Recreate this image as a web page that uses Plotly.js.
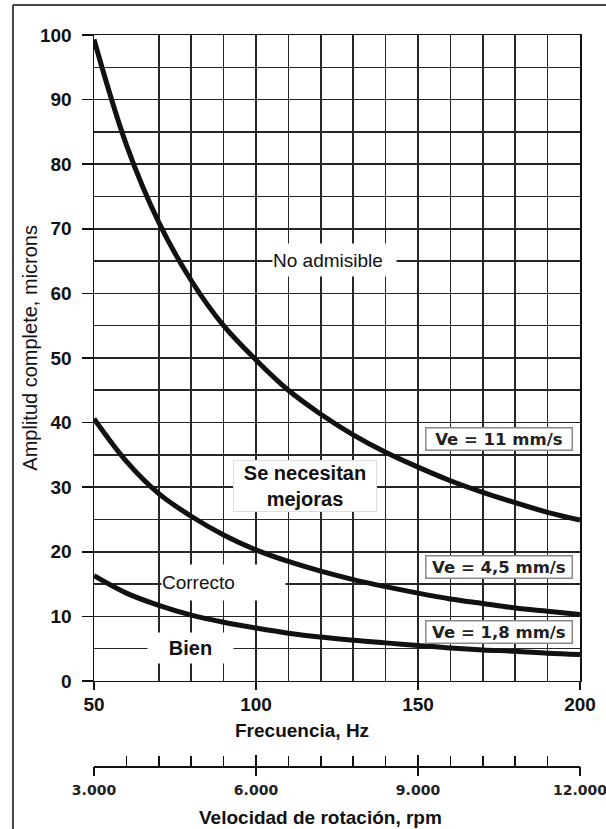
<!DOCTYPE html>
<html>
<head>
<meta charset="utf-8">
<script src="https://cdn.plot.ly/plotly-3.0.1.min.js"></script>
<style>html,body{margin:0;padding:0;background:#fff;}#chart{width:606px;height:829px;}</style>
</head>
<body>
<div id="chart"></div>
<script>
// Frequency (Hz)
const freq = [50, 60, 70, 80, 90, 100, 110, 120, 130, 140, 150, 160, 170, 180, 190, 200];
// Full amplitude (microns) read for each constant-velocity curve
const ve11  = [99.3, 83, 71, 62, 55, 49.7, 45, 41.3, 38.1, 35.4, 33.1, 31, 29.2, 27.6, 26.1, 24.9];
const ve45  = [40.6, 34, 29, 25.5, 22.6, 20.3, 18.5, 17, 15.7, 14.6, 13.6, 12.7, 12, 11.3, 10.8, 10.3];
const ve18  = [16.3, 13.6, 11.7, 10.2, 9.1, 8.2, 7.4, 6.8, 6.3, 5.9, 5.5, 5.1, 4.8, 4.6, 4.3, 4.1];

const curveLabels = ["Ve = 11 mm/s", "Ve = 4,5 mm/s", "Ve = 1,8 mm/s"];
const curveLabelY = [37.5, 17.7, 7.6];

const yTicks = [0, 10, 20, 30, 40, 50, 60, 70, 80, 90, 100];
const xTicks = [50, 100, 150, 200];
const xGridMinor = [70, 80, 90, 110, 120, 130, 140, 160, 170, 180, 190];
const rpmTicks = [3000, 6000, 9000, 12000];
const rpmLabels = ["3.000", "6.000", "9.000", "12.000"];

const zoneLabels = ["No admisible", "Se necesitan<br>mejoras", "Correcto", "Bien"];

const F = "Liberation Sans, Arial, sans-serif";
const FB = "Liberation Sans, Arial, sans-serif";
const FD = "DejaVu Sans, Verdana, sans-serif";
const gridC = "#262626";

const line = {color: "#111", width: 5, shape: "spline", smoothing: 1};
const traces = [
  {x: freq, y: ve11, mode: "lines", line: line, hoverinfo: "skip", showlegend: false},
  {x: freq, y: ve45, mode: "lines", line: line, hoverinfo: "skip", showlegend: false},
  {x: freq, y: ve18, mode: "lines", line: line, hoverinfo: "skip", showlegend: false},
  {x: [rpmTicks[0], rpmTicks[3]], y: [null, null], xaxis: "x2", yaxis: "y", mode: "lines", showlegend: false, hoverinfo: "skip"},
  {x: [rpmTicks[0], rpmTicks[3]], y: [null, null], xaxis: "x3", yaxis: "y", mode: "lines", showlegend: false, hoverinfo: "skip"}
];

const annotations = [];
// zone labels
annotations.push({x: 124.2, y: 65.1, xref: "x", yref: "y", text: zoneLabels[0], showarrow: false,
  font: {family: F, size: 19, color: "#111"}, bgcolor: "#fff", width: 123, height: 32, align: "left", borderpad: 0});
annotations.push({x: 115.1, y: 30.2, xref: "x", yref: "y", text: "<b>" + zoneLabels[1] + "</b>", showarrow: false,
  font: {family: FB, size: 20, color: "#111"}, bgcolor: "#fff", bordercolor: "#ddd", borderwidth: 1,
  width: 142, height: 50, align: "center", borderpad: 0});
annotations.push({x: 90.0, y: 15.25, xref: "x", yref: "y", text: zoneLabels[2], showarrow: false,
  font: {family: F, size: 19, color: "#111"}, bgcolor: "#fff", width: 123, height: 35, align: "left", borderpad: 0});
annotations.push({x: 79.8, y: 5.1, xref: "x", yref: "y", text: "<b>" + zoneLabels[3] + "</b>", showarrow: false,
  font: {family: FB, size: 20, color: "#111"}, bgcolor: "#fff", width: 85, height: 30, align: "center", borderpad: 0});
// velocity labels
for (let i = 0; i < curveLabels.length; i++) {
  annotations.push({x: 174.85, y: curveLabelY[i], xref: "x", yref: "y", text: "<b>" + curveLabels[i] + "</b>",
    showarrow: false, font: {family: FD, size: 16.5, color: "#222"},
    bgcolor: "#fff", bordercolor: "#888", borderwidth: 1.5, width: 143, height: 19, borderpad: 1, align: "center"});
}
// axis titles
annotations.push({x: -0.1317, y: 51.6, xref: "paper", yref: "y", text: "Amplitud complete, microns", textangle: -90,
  xanchor: "center", yanchor: "middle",
  showarrow: false, font: {family: F, size: 20, color: "#111"}});
annotations.push({x: 114.2, y: 0.0479, xref: "x", yref: "paper", text: "<b>Frecuencia, Hz</b>",
  showarrow: false, font: {family: FB, size: 19, color: "#111"}, yanchor: "middle"});
annotations.push({x: 120, y: -0.0711, xref: "x", yref: "paper", text: "<b>Velocidad de rotación, rpm</b>",
  showarrow: false, font: {family: FB, size: 19, color: "#111"}, yanchor: "middle"});

const shapes = [
  {type: "line", xref: "paper", yref: "paper", x0: -0.1667, x1: 1.06, y0: 1.041, y1: 1.041, line: {color: "#444", width: 2}},
  {type: "line", xref: "paper", yref: "paper", x0: -0.1667, x1: -0.1667, y0: 1.041, y1: -0.09, line: {color: "#444", width: 2}}
];

const layout = {
  width: 606, height: 829,
  margin: {l: 94, r: 26, t: 35, b: 63},
  paper_bgcolor: "#fff", plot_bgcolor: "#fff",
  showlegend: false,
  xaxis: {
    range: [50, 200], anchor: "y", tickvals: xTicks, ticktext: xTicks.map(v => "<b>" + v + "</b>"),
    ticks: "outside", ticklen: 8, tickwidth: 1.5, tickcolor: "#111",
    showline: true, linecolor: "#111", linewidth: 1.5, mirror: true,
    showgrid: true, gridcolor: gridC, gridwidth: 1.6, zeroline: false,
    minor: {tickvals: xGridMinor, showgrid: true, gridcolor: gridC, gridwidth: 1.6, ticks: ""},
    tickfont: {family: FB, size: 19, color: "#111"},
    ticklabeloverflow: "allow", ticklabelstandoff: -2, fixedrange: true
  },
  yaxis: {
    range: [0, 100], domain: [0.1163, 1], anchor: "x", tickvals: yTicks, ticktext: yTicks.map(v => "<b>" + v + "</b>"),
    ticks: "outside", ticklen: 11, tickwidth: 1.5, tickcolor: "#111",
    showline: true, linecolor: "#111", linewidth: 1.5, mirror: true,
    showgrid: true, gridcolor: gridC, gridwidth: 1.6, zeroline: false,
    minor: {dtick: 5, showgrid: true, gridcolor: gridC, gridwidth: 1.6, ticks: ""},
    tickfont: {family: FB, size: 19, color: "#111"},
    ticklabelstandoff: 6, fixedrange: true
  },
  xaxis2: {
    range: [3000, 12000], overlaying: "x", anchor: "free", position: 0, side: "bottom",
    tickvals: rpmTicks, ticktext: rpmLabels.map(v => "<b>" + v + "</b>"),
    ticks: "inside", ticklen: 11, tickwidth: 1.5, tickcolor: "#111",
    showline: true, linecolor: "#111", linewidth: 1.5, showgrid: false, zeroline: false,
    minor: {dtick: 600, tick0: 3000, ticks: "inside", ticklen: 10, tickwidth: 1.5, tickcolor: "#111", showgrid: false},
    tickfont: {family: FD, size: 14, color: "#222"},
    ticklabeloverflow: "allow", ticklabelstandoff: 11, fixedrange: true
  },
  xaxis3: {
    range: [3000, 12000], overlaying: "x", anchor: "free", position: 0, side: "bottom",
    tickvals: rpmTicks, ticks: "outside", ticklen: 9, tickwidth: 1.5, tickcolor: "#111",
    showticklabels: false, showline: false, showgrid: false, zeroline: false, fixedrange: true
  },
  annotations: annotations,
  shapes: shapes
};

Plotly.newPlot("chart", traces, layout, {displayModeBar: false, staticPlot: true});
</script>
</body>
</html>
